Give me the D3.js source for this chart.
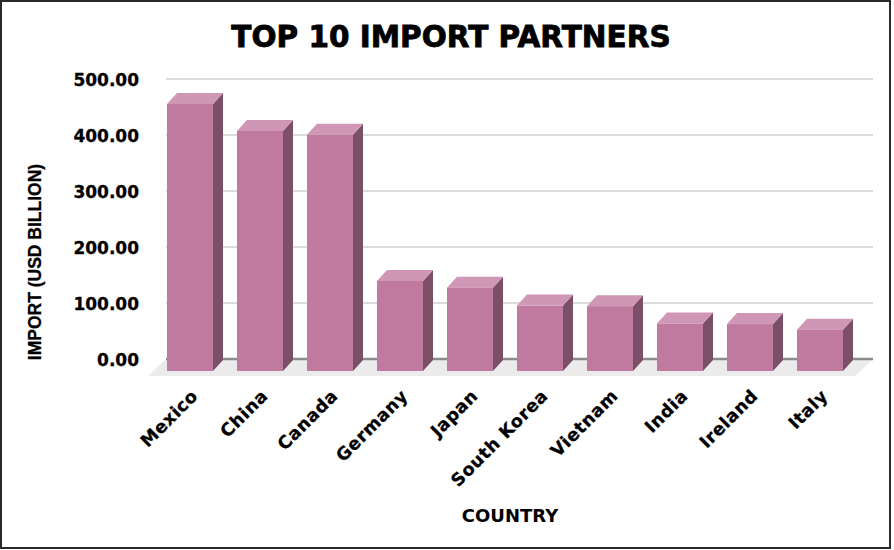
<!DOCTYPE html>
<html>
<head>
<meta charset="utf-8">
<script src="https://cdn.jsdelivr.net/npm/d3@7"></script>
<style>
  html, body { margin: 0; padding: 0; background: #fff; }
  svg { display: block; }
</style>
</head>
<body>
<div id="chart"></div>
<script>
const countries = ["Mexico", "China", "Canada", "Germany", "Japan", "South Korea", "Vietnam", "India", "Ireland", "Italy"];
const imports = [475, 427, 420, 159, 147, 115, 114, 83, 82, 72];
const yTicks = [0, 100, 200, 300, 400, 500];
const titleText = "TOP 10 IMPORT PARTNERS";
const yTitle = "IMPORT (USD BILLION)";
const xTitle = "COUNTRY";

const W = 894, H = 550;
const svg = d3.select("#chart").append("svg").attr("width", W).attr("height", H);

svg.append("rect").attr("x", 1).attr("y", 1).attr("width", 889).attr("height", 547)
  .attr("fill", "#fff").attr("stroke", "#2a2a2a").attr("stroke-width", 2);

const y = d3.scaleLinear().domain([0, 500]).range([359, 79]);
const x = d3.scaleBand().domain(countries).range([155, 855])
  .paddingInner(24 / 70).paddingOuter(12 / 70);

const DX = 10, DY = 11; // depth offset of 3D bars
const gridX0 = 166, gridX1 = 873;

// title
svg.append("text").attr("x", 451).attr("y", 47).attr("text-anchor", "middle")
  .attr("font-family", "DejaVu Sans").attr("font-weight", "bold").attr("font-size", 29.5)
  .attr("fill", "#000").attr("stroke", "#000").attr("stroke-width", 0.8).text(titleText);

// gridlines
svg.append("g").selectAll("line").data(yTicks.filter(d => d > 0)).join("line")
  .attr("x1", gridX0).attr("x2", gridX1)
  .attr("y1", d => y(d)).attr("y2", d => y(d))
  .attr("stroke", "#dcdcdc").attr("stroke-width", 2);

// floor
const floorFront = y(0) + 17, floorDX = 18;
svg.append("path")
  .attr("d", `M${gridX0},${y(0)} L${gridX1},${y(0)} L${gridX1 - floorDX},${floorFront} L${gridX0 - floorDX},${floorFront} Z`)
  .attr("fill", "#ebebeb");

// baseline
svg.append("line").attr("x1", gridX0).attr("x2", gridX1)
  .attr("y1", y(0)).attr("y2", y(0)).attr("stroke", "#8c8c8c").attr("stroke-width", 2.5);

// y axis tick labels
const yAxis = d3.axisLeft(y).tickValues(yTicks).tickFormat(d3.format(".2f")).tickSize(0).tickPadding(0);
const gy = svg.append("g").attr("transform", "translate(139,0)").call(yAxis);
gy.select(".domain").remove();
gy.selectAll("text").attr("font-family", "DejaVu Sans").attr("font-weight", "bold")
  .attr("font-size", 17).attr("fill", "#000").attr("stroke", "#000").attr("stroke-width", 0.3)
  .attr("dy", "0.36em");

// bars
const data = countries.map((c, i) => ({ c, v: imports[i] }));
const bottom = y(0) + 12;
const bars = svg.append("g").selectAll("g").data(data).join("g");
// side face
bars.append("path").attr("d", d => {
  const x0 = x(d.c) + x.bandwidth();
  const t = y(d.v) + DY;
  return `M${x0},${t} L${x0 + DX},${t - DY} L${x0 + DX},${bottom - DY} L${x0},${bottom} Z`;
}).attr("fill", "#7b4f68");
// top face
bars.append("path").attr("d", d => {
  const x0 = x(d.c), x1 = x0 + x.bandwidth();
  const t = y(d.v) + DY;
  return `M${x0},${t} L${x0 + DX},${t - DY} L${x1 + DX},${t - DY} L${x1},${t} Z`;
}).attr("fill", "#d096b6");
// front face
bars.append("rect")
  .attr("x", d => x(d.c)).attr("width", x.bandwidth())
  .attr("y", d => y(d.v) + DY).attr("height", d => bottom - (y(d.v) + DY))
  .attr("fill", "#c17a9f");

// x axis labels
const xAxis = d3.axisBottom(x).tickSize(0).tickPadding(0);
const gx = svg.append("g").call(xAxis);
gx.select(".domain").remove();
gx.selectAll(".tick").attr("transform", d => `translate(${x(d) + x.bandwidth() / 2 + 9},397)`);
gx.selectAll("text").attr("y", 0).attr("dy", 0)
  .attr("text-anchor", "end").attr("transform", "rotate(-45)")
  .attr("font-family", "DejaVu Sans").attr("font-weight", "bold")
  .attr("font-size", 17.5).attr("letter-spacing", 0.6).attr("fill", "#000")
  .attr("stroke", "#000").attr("stroke-width", 0.3);

// axis titles
svg.append("text").attr("transform", "translate(41,262) rotate(-90)").attr("text-anchor", "middle")
  .attr("font-family", "Liberation Sans, Arial, sans-serif").attr("font-weight", "bold")
  .attr("font-size", 17.5).attr("fill", "#000").attr("stroke", "#000").attr("stroke-width", 0.3)
  .text(yTitle);

svg.append("text").attr("x", 510).attr("y", 521.5).attr("text-anchor", "middle")
  .attr("font-family", "DejaVu Sans").attr("font-weight", "bold")
  .attr("font-size", 18).attr("fill", "#000").text(xTitle);
</script>
</body>
</html>
